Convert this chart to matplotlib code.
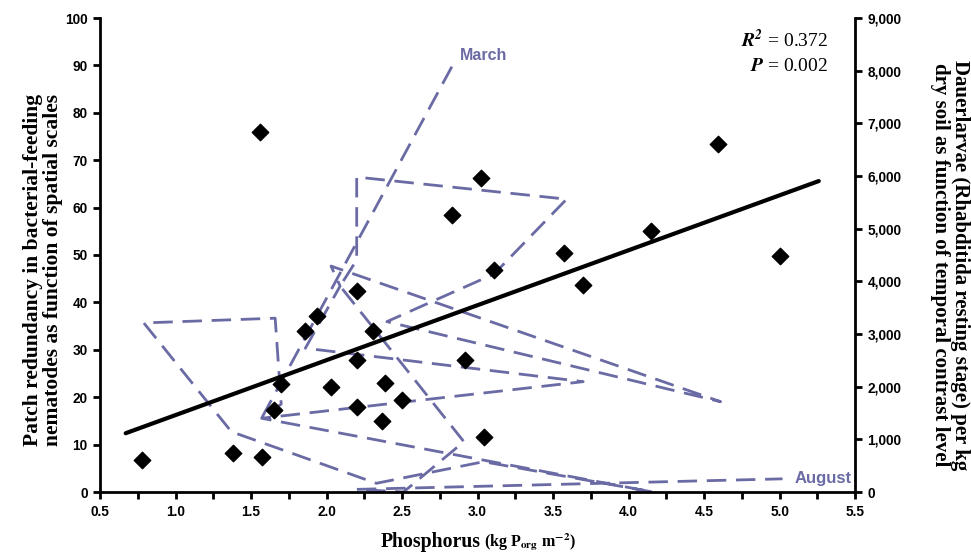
import matplotlib.pyplot as plt
from matplotlib.ticker import MultipleLocator, FuncFormatter

plt.rcParams['mathtext.fontset'] = 'stix'

# scatter: phosphorus vs patch redundancy
phos = [0.78, 1.38, 1.57, 1.56, 1.65, 1.70, 1.86, 1.94, 2.03, 2.20, 2.20, 2.20, 2.31,
        2.37, 2.39, 2.50, 2.83, 2.92, 3.02, 3.04, 3.11, 3.57, 3.70, 4.15, 4.59, 5.00]
redund = [6.8, 8.2, 7.3, 76.0, 17.2, 22.8, 34.0, 37.1, 22.2, 42.4, 27.8, 17.9, 34.0,
          15.0, 23.0, 19.4, 58.4, 27.8, 66.2, 11.6, 46.8, 50.4, 43.7, 55.0, 73.4, 49.8]

# regression line ends
fit_x = [0.67, 5.26]
fit_y = [12.4, 65.6]

# dauerlarvae trajectory, March -> August (right axis)
traj_x = [2.83, 1.57, 1.70, 1.66, 0.79, 1.37, 2.33, 3.04, 4.16, 1.57, 3.70, 1.86, 2.09,
          2.03, 4.61, 2.40, 3.11, 3.59, 2.20, 2.20, 2.09, 2.91, 2.51, 2.20, 5.02]
traj_y = [8075, 1400, 1670, 3300, 3210, 1145, 165, 575, 0, 1400, 2095, 2730, 3910,
          4290, 1715, 3235, 4140, 5560, 5980, 4405, 3910, 955, 0, 50, 250]

x_ticks = [0.5, 1.0, 1.5, 2.0, 2.5, 3.0, 3.5, 4.0, 4.5, 5.0, 5.5]

traj_col = '#6a6aa4'
sans = 'Liberation Sans'
serif = 'Liberation Serif'

fig = plt.figure(figsize=(9.71, 5.57), dpi=100)
ax = fig.add_axes([100 / 971, 65 / 557, 755 / 971, 474 / 557])
ax2 = ax.twinx()

ax2.plot(traj_x, traj_y, color=traj_col, lw=2, dashes=(7, 3.5))
ax2.text(2.88, 8150, 'March', color=traj_col, family=sans, weight='bold', size=11.5, va='bottom')
ax2.text(5.1, 250, 'August', color=traj_col, family=sans, weight='bold', size=12, va='center')

ax.set_zorder(ax2.get_zorder() + 1)
ax.patch.set_visible(False)
ax.scatter(phos, redund, marker='D', s=70, color='black', zorder=3)
ax.plot(fit_x, fit_y, color='black', lw=3, solid_capstyle='round', zorder=4)

ax.set_xlim(0.5, 5.5)
ax.set_ylim(0, 100)
ax2.set_ylim(0, 9000)
ax.set_xticks(x_ticks)
ax.set_xticklabels(['%.1f' % v for v in x_ticks])
ax.xaxis.set_minor_locator(MultipleLocator(0.25))
ax.yaxis.set_major_locator(MultipleLocator(10))
ax2.yaxis.set_major_locator(MultipleLocator(1000))
ax2.yaxis.set_major_formatter(FuncFormatter(lambda v, p: '{:,.0f}'.format(v)))
for lab in ax.get_xticklabels() + ax.get_yticklabels() + ax2.get_yticklabels():
    lab.set_family(sans)
    lab.set_weight('bold')
    lab.set_size(9.8)

for a in (ax, ax2):
    a.spines['top'].set_visible(False)
    for s in a.spines.values():
        s.set_linewidth(2)
    a.tick_params(which='both', direction='out', length=5, width=2, pad=4)
ax.spines['right'].set_visible(False)
ax2.spines['left'].set_visible(False)
ax2.spines['bottom'].set_visible(False)

fig.text(43 / 971, 0.515, 'Patch redundancy in bacterial-feeding\nnematodes as function of spatial scales',
         rotation=90, ha='center', va='center', family=serif, weight='bold', size=15.5,
         linespacing=1.0)
fig.text(950 / 971, 0.524, 'Dauerlarvae (Rhabditida resting stage) per kg\ndry soil as function of temporal contrast level',
         rotation=270, ha='center', va='center', family=serif, weight='bold', size=15,
         linespacing=0.95)
fig.text(481 / 971, 10 / 557, 'Phosphorus', ha='right', va='baseline', family=serif,
         weight='bold', size=14.2)
fig.text(484 / 971, 10 / 557, r'(kg P$_{\mathbf{org}}$ m$^{\mathbf{-2}}$)', ha='left', va='baseline',
         family=serif, weight='bold', size=11.5)

fig.text(828 / 971, 1 - 47 / 557, r'$\mathbfit{R}^{\mathbfit{2}}$ = 0.372', ha='right', va='baseline',
         family=serif, size=14)
fig.text(828 / 971, 1 - 71 / 557, r'$\mathbfit{P}$ = 0.002', ha='right', va='baseline',
         family=serif, size=14)

fig.savefig('out.png', dpi=100)
